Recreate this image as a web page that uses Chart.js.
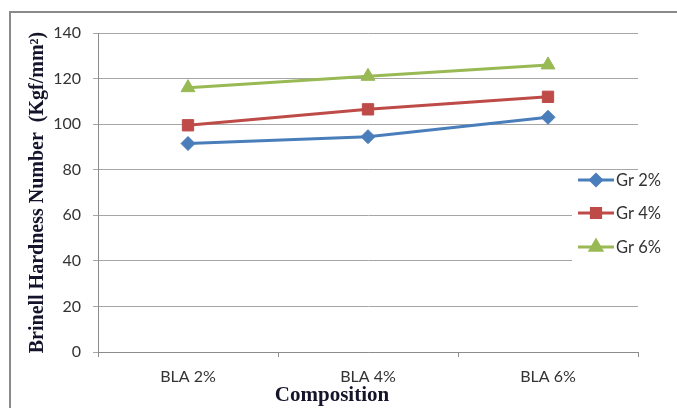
<!DOCTYPE html>
<html>
<head>
<meta charset="utf-8">
<script src="https://cdn.jsdelivr.net/npm/chart.js@4/dist/chart.umd.min.js"></script>
<style>
  html, body { margin: 0; padding: 0; background: #fff; }
  #wrap { width: 677px; height: 408px; position: relative; }
</style>
</head>
<body>
<div id="wrap"><canvas id="c" width="677" height="408"></canvas></div>
<script>
// Brinell hardness by BLA content, one line per graphite level
const categories = ['BLA 2%', 'BLA 4%', 'BLA 6%'];
const gr2 = [91.5, 94.5, 103];
const gr4 = [99.5, 106.5, 112];
const gr6 = [116, 121, 126];
const seriesNames = ['Gr 2%', 'Gr 4%', 'Gr 6%'];
const yTicks = [0, 20, 40, 60, 80, 100, 120, 140];

const yTitle = 'Brinell Hardness Number  (Kgf/mm\u00B2)';
const xTitle = 'Composition';

const colors = ['#4A7EBB', '#BE4B48', '#98B954'];
const styles = ['rectRot', 'rect', 'triangle'];
const radii = [7, 8, 8];

const tickFont = { family: 'Lato, "Open Sans", sans-serif', size: 16 };

// frame, titles and the side legend
const decor = {
  id: 'decor',
  beforeDraw(chart) {
    const ctx = chart.ctx;
    ctx.save();
    ctx.fillStyle = '#fff';
    ctx.fillRect(0, 0, chart.width, chart.height);
    ctx.strokeStyle = '#8a8a8a';
    ctx.lineWidth = 2;
    ctx.strokeRect(10, 12, 800, 600);
    ctx.restore();
  },
  afterDraw(chart) {
    const ctx = chart.ctx;
    const area = chart.chartArea;
    ctx.save();
    // y title
    ctx.fillStyle = '#14142a';
    ctx.font = 'bold 20px "Liberation Serif", "Times New Roman", serif';
    ctx.textAlign = 'center';
    ctx.textBaseline = 'middle';
    ctx.translate(38, (area.top + area.bottom) / 2);
    ctx.rotate(-Math.PI / 2);
    ctx.fillText(yTitle, 0, 0);
    ctx.restore();

    ctx.save();
    ctx.fillStyle = '#14142a';
    ctx.font = 'bold 21px "Liberation Serif", "Times New Roman", serif';
    ctx.textAlign = 'center';
    ctx.textBaseline = 'middle';
    ctx.fillText(xTitle, 332, 396);

    // legend
    ctx.fillStyle = '#fff';
    ctx.fillRect(572, 172, 110, 90);
    const rows = [180, 213, 247];
    chart.data.datasets.forEach((ds, i) => {
      const y = rows[i];
      ctx.strokeStyle = ds.borderColor;
      ctx.lineWidth = 3;
      ctx.beginPath();
      ctx.moveTo(578, y);
      ctx.lineTo(614, y);
      ctx.stroke();
      ctx.fillStyle = ds.backgroundColor;
      ctx.strokeStyle = ds.borderColor;
      Chart.helpers.drawPoint(ctx, {
        pointStyle: ds.pointStyle,
        radius: ds.pointRadius - 1.5,
        rotation: 0,
        borderWidth: 1
      }, 596, y);
      ctx.fillStyle = '#333';
      ctx.font = '16.5px Lato, "Open Sans", sans-serif';
      ctx.textAlign = 'left';
      ctx.fillText(ds.label, 616, y + 1);
    });
    ctx.restore();
  }
};

const seriesData = [gr2, gr4, gr6];

new Chart(document.getElementById('c'), {
  type: 'line',
  data: {
    labels: categories,
    datasets: seriesData.map((d, i) => ({
      label: seriesNames[i],
      data: d,
      borderColor: colors[i],
      backgroundColor: colors[i],
      borderWidth: 3,
      pointStyle: styles[i],
      pointRadius: radii[i],
      pointHoverRadius: radii[i],
      pointBorderWidth: 1,
      tension: 0
    }))
  },
  options: {
    responsive: false,
    animation: false,
    devicePixelRatio: 1,
    layout: { padding: { top: 33, right: 39, bottom: 0, left: 0 } },
    plugins: {
      legend: { display: false },
      tooltip: { enabled: false },
      title: { display: false }
    },
    scales: {
      x: {
        offset: true,
        grid: {
          offset: true,
          drawOnChartArea: false,
          drawTicks: true,
          tickLength: 5,
          color: '#8c8c8c'
        },
        border: { display: true, color: '#8c8c8c', width: 1 },
        ticks: { color: '#333', font: tickFont, padding: 10, maxRotation: 0 },
        afterFit(scale) { scale.height = 56; }
      },
      y: {
        min: 0,
        max: 140,
        afterBuildTicks(scale) { scale.ticks = yTicks.map(v => ({ value: v })); },
        grid: {
          color: '#a6a6a6',
          tickLength: 5,
          drawTicks: true
        },
        border: { display: true, color: '#8c8c8c', width: 1 },
        ticks: { color: '#333', font: tickFont, padding: 12 },
        afterFit(scale) { scale.width = 98; }
      }
    }
  },
  plugins: [decor]
});
</script>
</body>
</html>
